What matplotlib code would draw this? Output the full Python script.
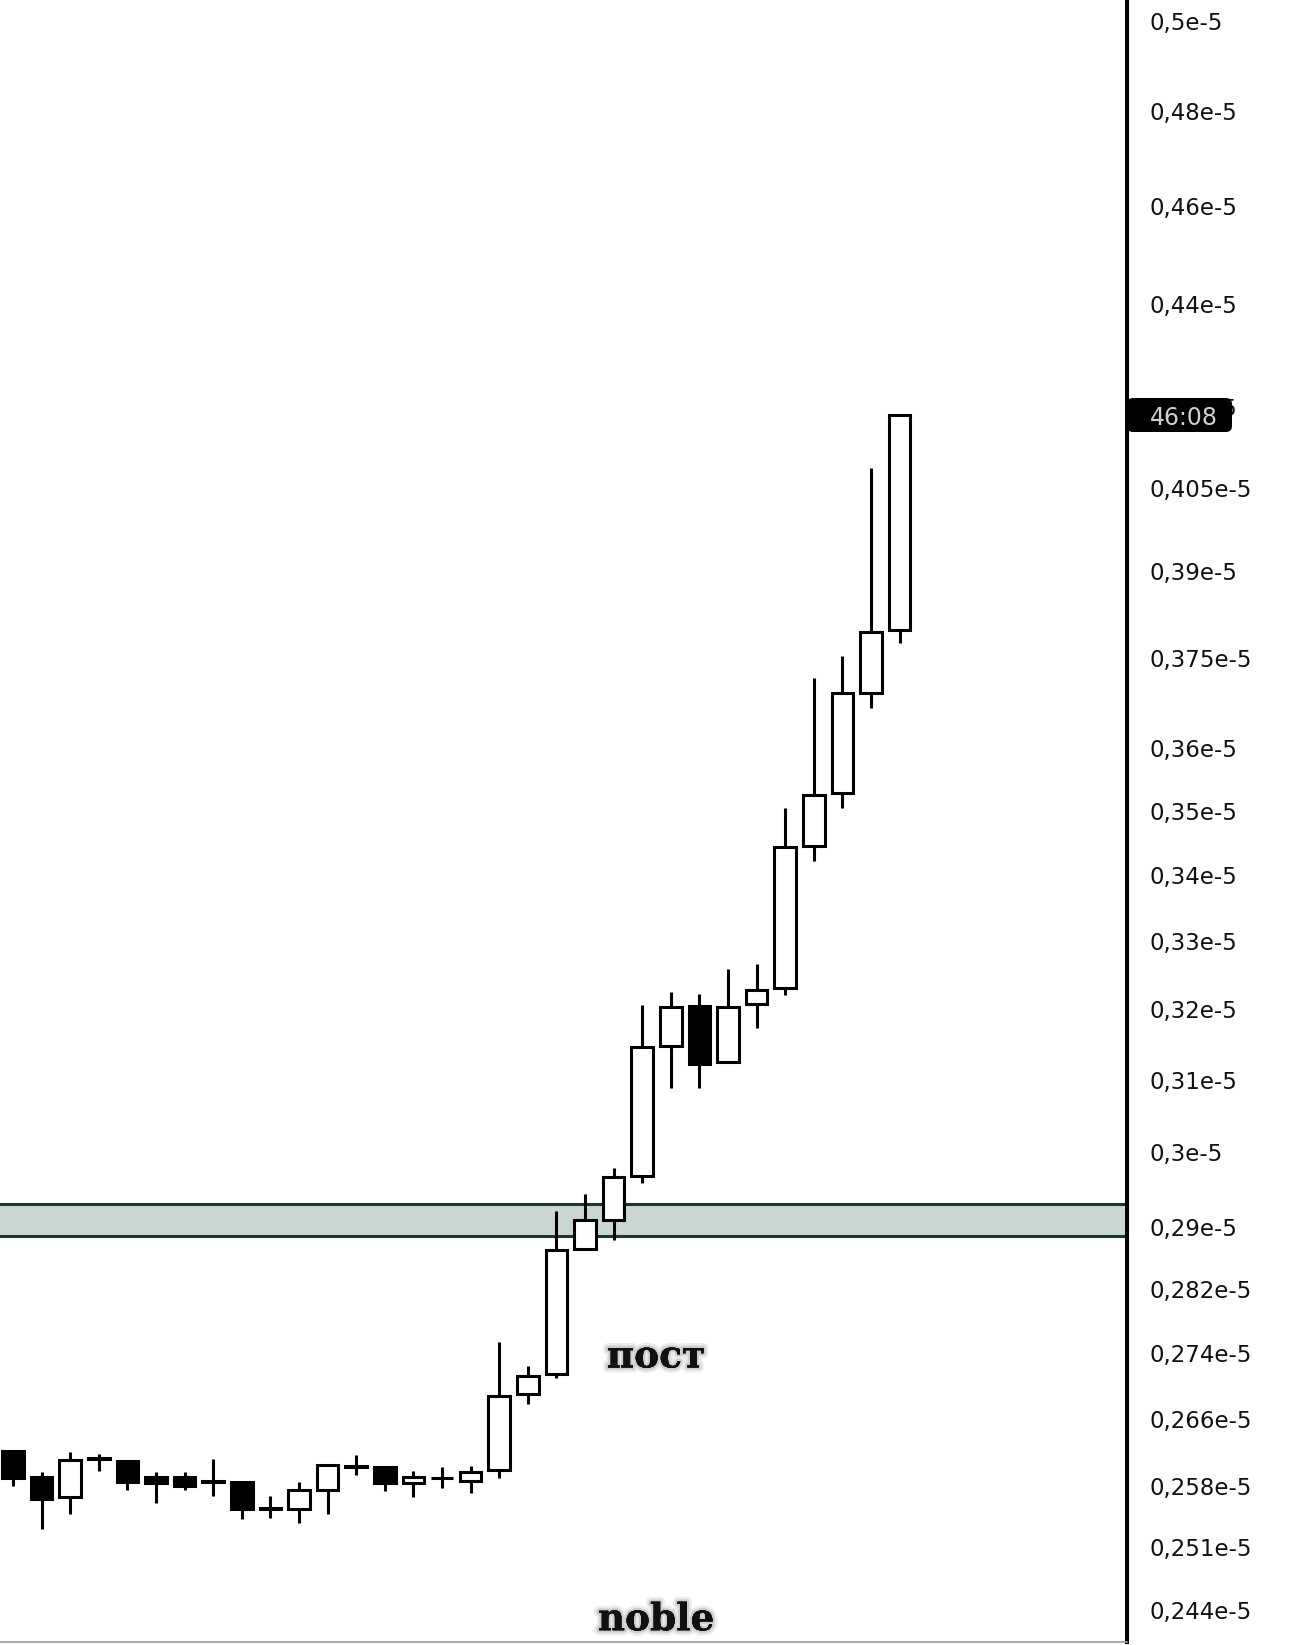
import matplotlib
matplotlib.use("Agg")
import matplotlib.pyplot as plt
import matplotlib.patheffects as pe
from matplotlib.patches import FancyBboxPatch
from matplotlib.transforms import IdentityTransform

# candles, prices in units of 1e-5
opens = [0.2621, 0.2591, 0.2567, 0.2612, 0.2610, 0.2591, 0.2591, 0.2585,
         0.2585, 0.2554, 0.2554, 0.2575, 0.2602, 0.2602, 0.2584, 0.2589,
         0.2586, 0.2599, 0.2690, 0.2714, 0.2872, 0.2910, 0.2968, 0.3148,
         0.3205, 0.3124, 0.3208, 0.3231, 0.3445, 0.3529, 0.3691, 0.3798]
highs = [0.2623, 0.2596, 0.2620, 0.2618, 0.2611, 0.2597, 0.2597, 0.2612,
         0.2586, 0.2568, 0.2585, 0.2605, 0.2616, 0.2603, 0.2598, 0.2602,
         0.2604, 0.2753, 0.2724, 0.2922, 0.2944, 0.2978, 0.3206, 0.3225,
         0.3222, 0.3259, 0.3266, 0.3505, 0.3717, 0.3754, 0.4086, 0.4185]
lows = [0.2580, 0.2531, 0.2548, 0.2598, 0.2576, 0.2561, 0.2576, 0.2569,
        0.2542, 0.2543, 0.2537, 0.2548, 0.2593, 0.2574, 0.2567, 0.2578,
        0.2572, 0.2590, 0.2678, 0.2709, 0.2870, 0.2884, 0.2959, 0.3088,
        0.3088, 0.3123, 0.3173, 0.3221, 0.3422, 0.3505, 0.3666, 0.3776]
closes = [0.2589, 0.2565, 0.2611, 0.2613, 0.2585, 0.2584, 0.2580, 0.2586,
          0.2553, 0.2555, 0.2575, 0.2605, 0.2604, 0.2584, 0.2591, 0.2590,
          0.2597, 0.2687, 0.2712, 0.2871, 0.2909, 0.2967, 0.3146, 0.3203,
          0.3122, 0.3203, 0.3228, 0.3444, 0.3525, 0.3692, 0.3795, 0.4185]

zone = (0.2889, 0.2930)

yticks = [0.5, 0.48, 0.46, 0.44, 0.42, 0.405, 0.39, 0.375, 0.36, 0.35, 0.34,
          0.33, 0.32, 0.31, 0.3, 0.29, 0.282, 0.274, 0.266, 0.258, 0.251, 0.244]
ylabels = ["0,5e-5", "0,48e-5", "0,46e-5", "0,44e-5", "0,42e-5", "0,405e-5",
           "0,39e-5", "0,375e-5", "0,36e-5", "0,35e-5", "0,34e-5", "0,33e-5",
           "0,32e-5", "0,31e-5", "0,3e-5", "0,29e-5", "0,282e-5", "0,274e-5",
           "0,266e-5", "0,258e-5", "0,251e-5", "0,244e-5"]
timer_text = "46:08"

fig = plt.figure(figsize=(13.16, 16.45), dpi=100)
ax = fig.add_axes([0, 0.002, 1127 / 1316, 0.998])

ax.axhspan(zone[0], zone[1], facecolor="#c9d6d1", edgecolor="none", zorder=1)
for z in zone:
    ax.axhline(z, color="#17392e", linewidth=2.2, zorder=1.5)

for i in range(len(opens)):
    o, h, l, c = opens[i], highs[i], lows[i], closes[i]
    ax.vlines(i, l, h, color="black", linewidth=2.2, zorder=2)
    face = "white" if c >= o else "black"
    ax.bar(i, abs(c - o), bottom=min(o, c), width=0.76, facecolor=face,
           edgecolor="black", linewidth=2.2, zorder=3)

ax.set_yscale("log")
ax.set_xlim(-0.4545, 38.95)
ax.set_ylim(0.2405, 0.50476)
ax.set_yticks(yticks)
ax.set_yticklabels(ylabels)
ax.yaxis.set_minor_locator(matplotlib.ticker.NullLocator())
ax.yaxis.tick_right()
ax.tick_params(axis="y", length=0, pad=16.5, labelsize=16.5, labelcolor="#111111")
ax.set_xticks([])

for s in ["top", "left"]:
    ax.spines[s].set_visible(False)
ax.spines["right"].set_linewidth(2.9)
ax.spines["right"].set_color("black")
ax.spines["bottom"].set_color("#9a9a9a")
ax.spines["bottom"].set_linewidth(1.2)

glow = [pe.withStroke(linewidth=7, foreground=(0, 0, 0, 0.08)),
        pe.withStroke(linewidth=3.5, foreground=(0, 0, 0, 0.12))]
ax.text(22.48, 0.2735, "пост", family="DejaVu Serif", fontweight="bold",
        fontsize=27, ha="center", va="center", color="#111111",
        path_effects=glow, zorder=5)
ax.text(22.48, 0.2429, "noble", family="DejaVu Serif", fontweight="bold",
        fontsize=27, ha="center", va="center", color="#111111",
        path_effects=glow, zorder=5)

# countdown box at the last close
x0 = ax.transAxes.transform((1, 0))[0]
yc = ax.transData.transform((0, closes[-1]))[1]
box = FancyBboxPatch((x0, yc - 17), 105, 34,
                     boxstyle="round,pad=0,rounding_size=6",
                     transform=IdentityTransform(), facecolor="black",
                     edgecolor="none", zorder=5)
fig.add_artist(box)
fig.text(x0 + 23, yc, timer_text, transform=IdentityTransform(),
         ha="left", va="center_baseline", fontsize=17, color="#cfcfcf",
         zorder=6)

fig.savefig("out.png", dpi=100)
